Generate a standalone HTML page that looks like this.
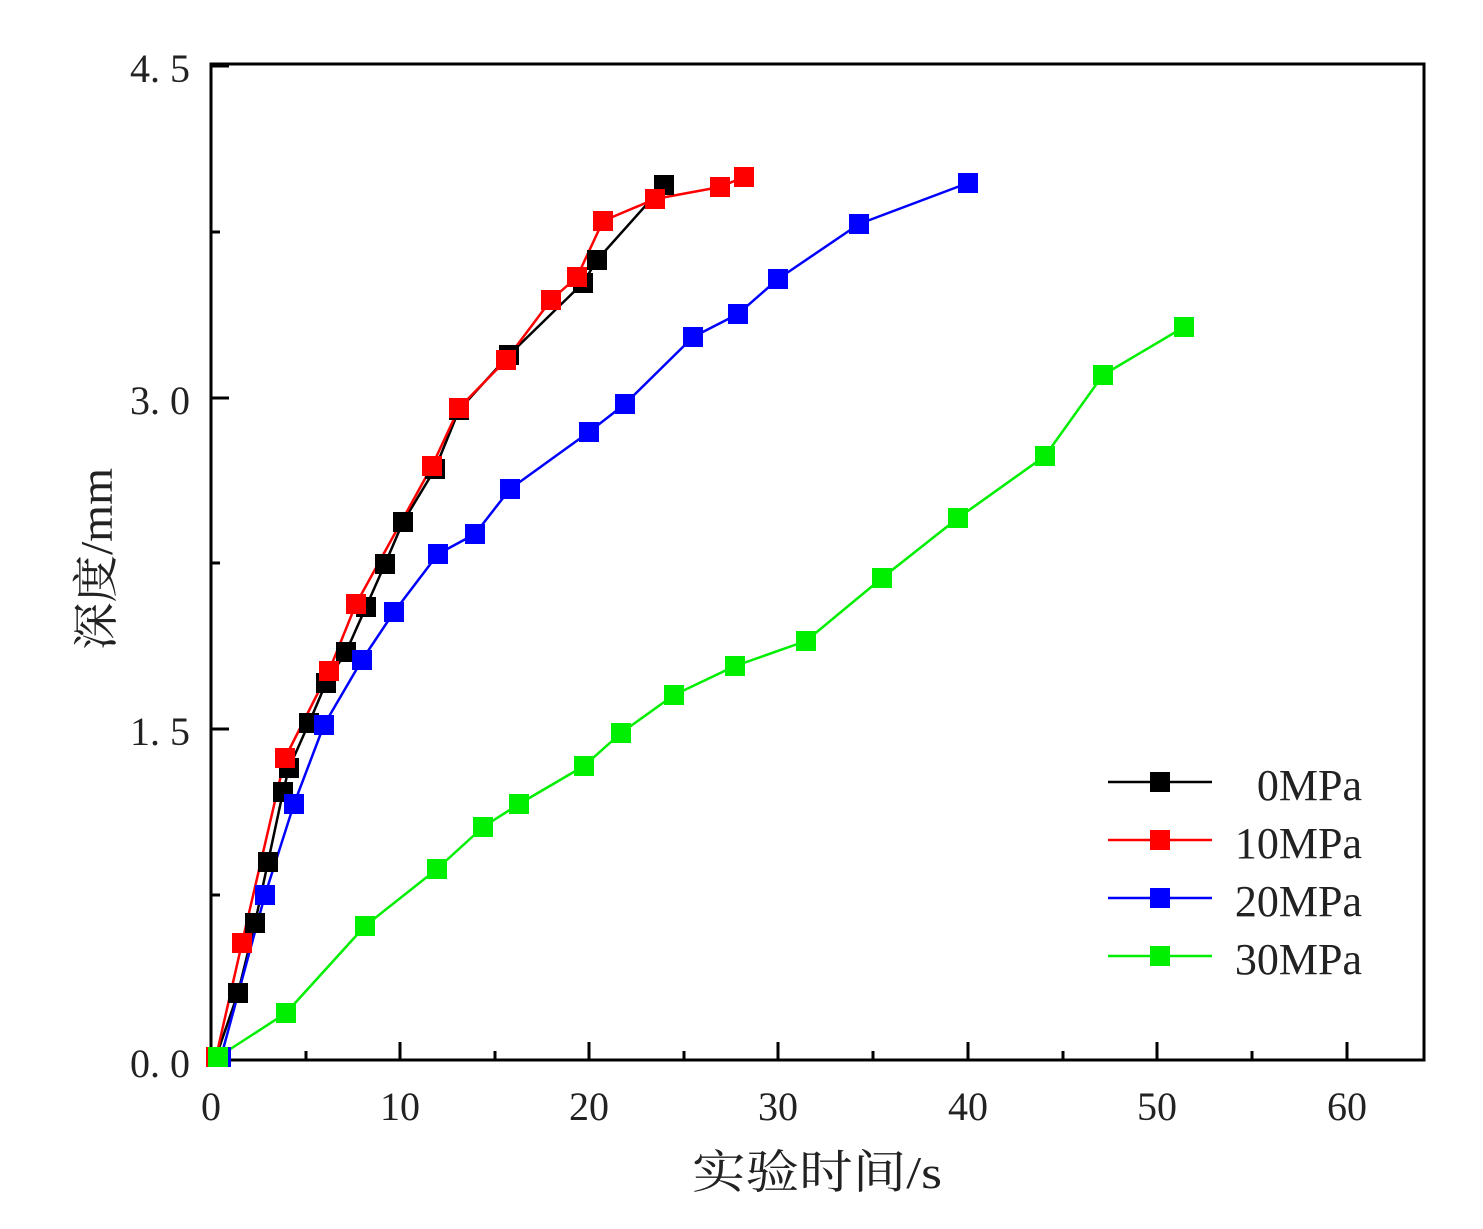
<!DOCTYPE html>
<html><head><meta charset="utf-8"><style>body{margin:0;background:#fff}svg{display:block}</style></head><body>
<svg width="1483" height="1229" viewBox="0 0 1483 1229" xmlns="http://www.w3.org/2000/svg" font-family="'Liberation Serif','Noto Serif CJK SC',serif">
<rect width="1483" height="1229" fill="#fff"/>
<rect x="211" y="64" width="1213" height="996" fill="none" stroke="#000" stroke-width="3"/>
<g stroke="#000" stroke-width="3">
<path d="M211 1060v-18M306 1060v-9M400 1060v-18M495 1060v-9M589 1060v-18M684 1060v-9M778 1060v-18M873 1060v-9M968 1060v-18M1063 1060v-9M1157 1060v-18M1252 1060v-9M1347 1060v-18"/>
<path d="M211 1060h18M211 895h9M211 729h18M211 563h9M211 398h18M211 232h9M211 66h18"/>
</g>
<g font-size="40" fill="#222">
<text x="190" y="1077" text-anchor="end">0. 0</text>
<text x="190" y="745" text-anchor="end">1. 5</text>
<text x="190" y="414" text-anchor="end">3. 0</text>
<text x="190" y="82" text-anchor="end">4. 5</text>
<g text-anchor="middle">
<text x="211" y="1120">0</text><text x="400" y="1120">10</text><text x="589" y="1120">20</text><text x="778" y="1120">30</text><text x="968" y="1120">40</text><text x="1157" y="1120">50</text><text x="1347" y="1120">60</text>
</g></g>
<text x="692" y="1188" font-size="46" textLength="250" lengthAdjust="spacingAndGlyphs" fill="#222">实验时间/s</text>
<text transform="translate(112,650) rotate(-90)" font-size="46" textLength="182" lengthAdjust="spacingAndGlyphs" fill="#222">深度/mm</text>
<g fill="none" stroke-width="2.5" stroke-linejoin="round">
<polyline stroke="#000" points="216,1057 238,993 255,923 268,862 283,792 289,768 309,723 326,683 346,652 366,607 385,564 403,522 435,469 459,410 509,355 583,283 597,260 664,185"/>
<polyline stroke="#f00" points="216,1057 242,943 285,758 329,671 356,604 432,466 459,408 506,360 551,300 577,277 603,221 655,199 720,187 744,177"/>
<polyline stroke="#00f" points="221,1057 265,895 294,804 324,725 362,660 394,612 438,554 475,534 510,489 589,432 625,404 693,337 738,314 778,279 859,224 968,183"/>
<polyline stroke="#0e0" points="218,1057 286,1013 365,926 437,869 483,827 519,804 584,766 621,733 674,695 735,666 806,641 882,578 958,518 1045,456 1103,375 1184,327"/>
</g>
<defs><rect id="m" x="-10" y="-10" width="20" height="20"/></defs>
<g fill="#000"><use href="#m" x="216" y="1057"/><use href="#m" x="238" y="993"/><use href="#m" x="255" y="923"/><use href="#m" x="268" y="862"/><use href="#m" x="283" y="792"/><use href="#m" x="289" y="768"/><use href="#m" x="309" y="723"/><use href="#m" x="326" y="683"/><use href="#m" x="346" y="652"/><use href="#m" x="366" y="607"/><use href="#m" x="385" y="564"/><use href="#m" x="403" y="522"/><use href="#m" x="435" y="469"/><use href="#m" x="459" y="410"/><use href="#m" x="509" y="355"/><use href="#m" x="583" y="283"/><use href="#m" x="597" y="260"/><use href="#m" x="664" y="185"/></g>
<g fill="#f00"><use href="#m" x="216" y="1057"/><use href="#m" x="242" y="943"/><use href="#m" x="285" y="758"/><use href="#m" x="329" y="671"/><use href="#m" x="356" y="604"/><use href="#m" x="432" y="466"/><use href="#m" x="459" y="408"/><use href="#m" x="506" y="360"/><use href="#m" x="551" y="300"/><use href="#m" x="577" y="277"/><use href="#m" x="603" y="221"/><use href="#m" x="655" y="199"/><use href="#m" x="720" y="187"/><use href="#m" x="744" y="177"/></g>
<g fill="#00f"><use href="#m" x="221" y="1057"/><use href="#m" x="265" y="895"/><use href="#m" x="294" y="804"/><use href="#m" x="324" y="725"/><use href="#m" x="362" y="660"/><use href="#m" x="394" y="612"/><use href="#m" x="438" y="554"/><use href="#m" x="475" y="534"/><use href="#m" x="510" y="489"/><use href="#m" x="589" y="432"/><use href="#m" x="625" y="404"/><use href="#m" x="693" y="337"/><use href="#m" x="738" y="314"/><use href="#m" x="778" y="279"/><use href="#m" x="859" y="224"/><use href="#m" x="968" y="183"/></g>
<g fill="#0e0"><use href="#m" x="218" y="1057"/><use href="#m" x="286" y="1013"/><use href="#m" x="365" y="926"/><use href="#m" x="437" y="869"/><use href="#m" x="483" y="827"/><use href="#m" x="519" y="804"/><use href="#m" x="584" y="766"/><use href="#m" x="621" y="733"/><use href="#m" x="674" y="695"/><use href="#m" x="735" y="666"/><use href="#m" x="806" y="641"/><use href="#m" x="882" y="578"/><use href="#m" x="958" y="518"/><use href="#m" x="1045" y="456"/><use href="#m" x="1103" y="375"/><use href="#m" x="1184" y="327"/></g>
<g stroke-width="2.5">
<line x1="1108" x2="1212" y1="782" y2="782" stroke="#000"/><use href="#m" x="1160" y="782" fill="#000"/>
<line x1="1108" x2="1212" y1="840" y2="840" stroke="#f00"/><use href="#m" x="1160" y="840" fill="#f00"/>
<line x1="1108" x2="1212" y1="898" y2="898" stroke="#00f"/><use href="#m" x="1160" y="898" fill="#00f"/>
<line x1="1108" x2="1212" y1="956" y2="956" stroke="#0e0"/><use href="#m" x="1160" y="956" fill="#0e0"/>
</g>
<g font-size="44" fill="#222" text-anchor="end">
<text x="1362" y="800">0MPa</text><text x="1362" y="858">10MPa</text><text x="1362" y="916">20MPa</text><text x="1362" y="974">30MPa</text>
</g>
</svg>
</body></html>
